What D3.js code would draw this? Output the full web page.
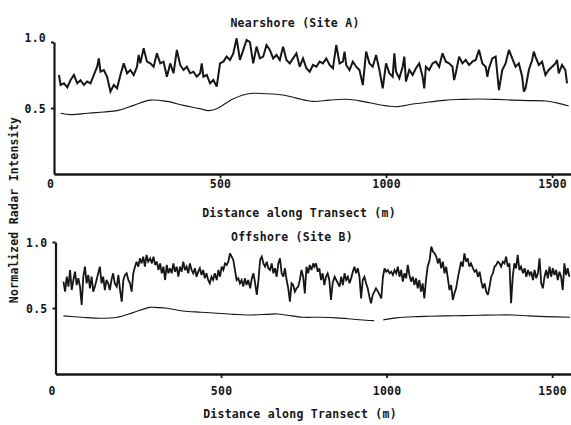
<!DOCTYPE html>
<html><head><meta charset="utf-8">
<script src="https://cdn.jsdelivr.net/npm/d3@7"></script>
<style>
body{margin:0;background:#fff}
text{font-family:"DejaVu Sans Mono",monospace;font-weight:bold;font-size:11.5px;fill:#161616;letter-spacing:0.25px}
</style>
</head><body>
<svg id="chart" width="571" height="425"></svg>
<script>
// ---------- DATA ----------
const distTicks = [0, 500, 1000, 1500];
const intensityTicks = [0.5, 1.0];
const panelTitles = ["Nearshore (Site A)", "Offshore (Site B)"];
const xTitle = "Distance along Transect (m)";
const yTitle = "Normalized Radar Intensity";

// Nearshore (Site A): raw intensity trace [distance m, intensity]
const nearNoisy = [
[15,0.75],[20,0.674],[30,0.687],[40,0.657],[50,0.712],[60,0.75],[70,0.687],[80,0.71],[90,0.674],[100,0.70],
[110,0.687],[120,0.75],[130,0.813],[135,0.876],[140,0.775],[150,0.788],[160,0.737],[170,0.624],[180,0.674],[190,0.649],
[200,0.75],[210,0.838],[220,0.763],[230,0.788],[240,0.75],[250,0.813],[255,0.902],[260,0.838],[270,0.952],[280,0.851],
[290,0.838],[300,0.813],[310,0.914],[320,0.838],[330,0.851],[340,0.737],[350,0.838],[360,0.763],[370,0.94],[380,0.826],
[390,0.788],[400,0.813],[410,0.763],[420,0.775],[430,0.737],[440,0.763],[445,0.838],[450,0.737],[460,0.75],[470,0.687],
[480,0.712],[490,0.662],[500,0.838],[510,0.851],[520,0.889],[530,0.864],[540,0.914],[550,1.028],[560,0.864],[570,0.94],
[580,1.015],[590,1.0],[600,0.838],[610,0.965],[620,0.876],[630,0.889],[640,0.977],[650,0.94],[660,0.876],[670,0.902],
[680,0.864],[690,0.965],[700,0.864],[710,0.838],[720,0.876],[730,0.914],[740,0.813],[750,0.876],[760,0.801],[770,0.775],
[780,0.826],[790,0.813],[800,0.851],[810,0.838],[820,0.876],[830,0.826],[840,0.801],[850,0.977],[860,0.838],[870,0.851],
[875,0.927],[880,0.826],[890,0.788],[900,0.851],[910,0.813],[920,0.788],[930,0.674],[940,0.927],[950,0.838],[960,0.813],
[970,0.902],[980,0.788],[990,0.649],[1000,0.838],[1010,0.763],[1020,0.737],[1025,0.914],[1030,0.775],[1040,0.725],[1050,0.813],
[1055,0.889],[1060,0.70],[1070,0.788],[1080,0.75],[1090,0.801],[1100,0.838],[1110,0.737],[1115,0.649],[1120,0.813],[1130,0.788],
[1140,0.838],[1150,0.851],[1160,0.813],[1170,0.914],[1180,0.851],[1190,0.838],[1200,0.813],[1205,0.712],[1210,0.763],[1220,0.889],
[1230,0.838],[1240,0.864],[1250,0.826],[1260,0.851],[1270,0.864],[1280,0.94],[1290,0.838],[1300,0.813],[1305,0.737],[1310,0.801],
[1320,0.876],[1330,0.889],[1340,0.636],[1350,0.788],[1360,0.838],[1370,0.94],[1380,0.876],[1390,0.813],[1400,0.838],[1410,0.737],
[1415,0.624],[1420,0.649],[1430,0.788],[1440,0.864],[1445,0.927],[1450,0.889],[1460,0.826],[1470,0.851],[1480,0.75],[1490,0.788],
[1500,0.813],[1510,0.838],[1515,0.864],[1520,0.763],[1530,0.826],[1540,0.788],[1545,0.687]
];
// Nearshore (Site A): smoothed trend
const nearSmooth = [
[20,0.46],[50,0.45],[100,0.46],[150,0.47],[190,0.48],[240,0.52],[290,0.56],[340,0.55],[390,0.52],[440,0.495],
[465,0.48],[490,0.495],[540,0.57],[590,0.61],[640,0.608],[690,0.598],[730,0.575],[780,0.55],[830,0.56],[880,0.566],
[930,0.55],[980,0.525],[1030,0.51],[1080,0.53],[1130,0.545],[1180,0.56],[1230,0.565],[1280,0.568],[1330,0.565],[1380,0.56],
[1430,0.556],[1480,0.553],[1520,0.535],[1550,0.515]
];

// Offshore (Site B): raw intensity trace [distance m, intensity]
const offNoisy = [
[24,0.70],[29,0.624],[34,0.737],[39,0.662],[44,0.788],[49,0.636],[54,0.712],[59,0.775],[64,0.674],[69,0.725],
[74,0.662],[79,0.523],[84,0.737],[89,0.813],[94,0.687],[99,0.75],[104,0.649],[109,0.737],[114,0.624],[119,0.662],
[124,0.712],[129,0.763],[134,0.813],[139,0.687],[144,0.737],[149,0.636],[154,0.712],[159,0.687],[164,0.636],[169,0.712],
[174,0.763],[179,0.687],[185,0.662],[190,0.75],[195,0.636],[200,0.548],[205,0.712],[210,0.75],[215,0.763],[220,0.712],
[225,0.687],[230,0.624],[235,0.763],[240,0.813],[245,0.851],[250,0.813],[255,0.876],[260,0.838],[265,0.889],[270,0.813],
[275,0.902],[280,0.851],[286,0.876],[291,0.838],[296,0.889],[301,0.826],[306,0.851],[311,0.788],[316,0.838],[321,0.763],
[326,0.813],[331,0.712],[336,0.826],[341,0.763],[346,0.801],[351,0.763],[356,0.838],[361,0.775],[366,0.813],[371,0.737],
[376,0.813],[381,0.775],[386,0.851],[391,0.788],[396,0.813],[401,0.763],[406,0.838],[411,0.788],[416,0.763],[421,0.801],
[426,0.737],[431,0.775],[436,0.801],[441,0.75],[446,0.788],[451,0.725],[456,0.763],[461,0.712],[466,0.687],[471,0.737],
[476,0.712],[481,0.763],[487,0.712],[492,0.788],[497,0.737],[502,0.813],[507,0.788],[512,0.838],[517,0.826],[522,0.851],
[527,0.914],[532,0.889],[537,0.864],[542,0.788],[547,0.712],[552,0.725],[557,0.687],[562,0.712],[567,0.662],[572,0.725],
[577,0.674],[582,0.712],[588,0.649],[593,0.725],[598,0.763],[603,0.687],[608,0.599],[613,0.712],[618,0.864],[623,0.889],
[628,0.838],[633,0.813],[638,0.851],[643,0.801],[648,0.788],[653,0.838],[658,0.763],[663,0.801],[668,0.737],[673,0.838],
[678,0.876],[683,0.763],[688,0.737],[693,0.801],[698,0.712],[703,0.649],[708,0.548],[713,0.687],[718,0.674],[723,0.624],
[728,0.649],[733,0.662],[738,0.712],[743,0.788],[748,0.737],[753,0.611],[758,0.813],[763,0.763],[768,0.826],[773,0.788],
[779,0.838],[782,0.813],[787,0.838],[792,0.775],[797,0.801],[802,0.712],[807,0.763],[812,0.674],[817,0.737],[822,0.763],
[827,0.712],[832,0.561],[837,0.687],[843,0.737],[848,0.712],[853,0.687],[858,0.662],[863,0.737],[868,0.674],[873,0.763],
[878,0.712],[883,0.737],[888,0.687],[893,0.725],[898,0.775],[903,0.813],[908,0.763],[913,0.801],[918,0.737],[923,0.573],
[928,0.712],[933,0.737],[938,0.687],[943,0.649],[948,0.586],[953,0.536],[958,0.599],[963,0.624],[968,0.649],[974,0.624],
[979,0.599],[984,0.573],[989,0.737],[994,0.801],[999,0.775],[1004,0.788],[1009,0.763],[1014,0.775],[1019,0.75],[1024,0.788],
[1029,0.763],[1034,0.813],[1039,0.737],[1044,0.788],[1049,0.70],[1054,0.763],[1059,0.725],[1064,0.826],[1069,0.75],[1074,0.70],
[1079,0.737],[1084,0.674],[1089,0.725],[1094,0.649],[1099,0.712],[1104,0.624],[1109,0.687],[1114,0.573],[1119,0.712],[1124,0.813],
[1130,0.864],[1135,0.965],[1140,0.927],[1145,0.914],[1150,0.889],[1155,0.838],[1160,0.876],[1165,0.801],[1170,0.851],[1175,0.763],
[1180,0.813],[1185,0.725],[1190,0.636],[1195,0.674],[1200,0.561],[1205,0.611],[1210,0.649],[1215,0.725],[1220,0.788],[1225,0.851],
[1230,0.813],[1235,0.914],[1240,0.851],[1245,0.876],[1250,0.813],[1255,0.838],[1261,0.801],[1266,0.775],[1271,0.788],[1276,0.737],
[1281,0.775],[1286,0.70],[1291,0.649],[1296,0.687],[1301,0.624],[1306,0.599],[1311,0.662],[1316,0.737],[1321,0.763],[1326,0.813],
[1331,0.826],[1336,0.851],[1341,0.838],[1346,0.813],[1351,0.851],[1356,0.838],[1361,0.889],[1366,0.813],[1371,0.838],[1376,0.536],
[1381,0.737],[1386,0.838],[1391,0.801],[1396,0.902],[1401,0.788],[1406,0.813],[1412,0.763],[1417,0.801],[1422,0.737],[1427,0.788],
[1432,0.75],[1437,0.775],[1442,0.712],[1447,0.788],[1452,0.725],[1457,0.763],[1462,0.876],[1467,0.687],[1472,0.649],[1477,0.737],
[1482,0.788],[1487,0.725],[1492,0.813],[1497,0.737],[1502,0.801],[1507,0.75],[1512,0.788],[1517,0.712],[1522,0.775],[1527,0.737],
[1532,0.636],[1537,0.838],[1542,0.75],[1547,0.801],[1552,0.737]
];
// Offshore (Site B): smoothed trend (null marks the break in the record)
const offSmooth = [
[24,0.44],[80,0.43],[134,0.422],[186,0.43],[234,0.465],[285,0.505],[310,0.503],[337,0.498],[385,0.477],[440,0.468],
[488,0.46],[540,0.452],[588,0.447],[640,0.452],[669,0.455],[700,0.445],[748,0.43],[800,0.43],[850,0.425],[900,0.415],
[950,0.405],[962,0.404],[975,null],[990,0.41],[1030,0.425],[1080,0.434],[1130,0.437],[1180,0.44],[1230,0.442],[1280,0.445],
[1330,0.447],[1382,0.447],[1430,0.44],[1480,0.435],[1554,0.43]
];

// ---------- LAYOUT ----------
const svg = d3.select("#chart");
const ink = "#161616";
const layouts = [
  {xr:[54,572], yr:[174,42], titleX:295, titleY:22.5, tickGap:9.5, xTitleX:299, xTitleY:213, noisyW:2.0},
  {xr:[55.5,572], yr:[374,242], titleX:292, titleY:236.5, tickGap:16.5, xTitleX:300, xTitleY:414, noisyW:1.8}
];
const series = [
  {noisy: nearNoisy, smooth: nearSmooth},
  {noisy: offNoisy, smooth: offSmooth}
];

layouts.forEach((L, i) => {
  const x = d3.scaleLinear().domain([0, 1560]).range(L.xr);
  const y = d3.scaleLinear().domain([0, 1]).range(L.yr);
  const g = svg.append("g");

  const noisyLine = d3.line().x(d => x(d[0])).y(d => y(d[1])).defined(d => d[1] !== null);
  const smoothLine = d3.line().x(d => x(d[0])).y(d => y(d[1])).defined(d => d[1] !== null).curve(d3.curveCatmullRom);
  g.append("path").datum(series[i].smooth).attr("d", smoothLine)
    .attr("fill", "none").attr("stroke", ink).attr("stroke-width", 1.1);
  g.append("path").datum(series[i].noisy).attr("d", noisyLine)
    .attr("fill", "none").attr("stroke", ink).attr("stroke-width", L.noisyW)
    .attr("stroke-linejoin", "miter").attr("stroke-miterlimit", 3);

  // x axis
  const xa = g.append("g").attr("transform", `translate(0,${L.yr[0]})`)
    .call(d3.axisBottom(x).tickValues(distTicks).tickSize(4).tickSizeOuter(0).tickFormat(d3.format("d")));
  xa.attr("font-family", null).attr("font-size", null);
  xa.select(".domain").attr("stroke", ink).attr("stroke-width", 2.3);
  xa.selectAll(".tick line").attr("stroke", ink).attr("stroke-width", 1.8);
  xa.selectAll(".tick").filter(d => d === 0).select("line").remove();
  xa.selectAll(".tick text").attr("y", L.tickGap).attr("dy", "0.35em")
    .attr("dx", d => d === 0 ? -4 : 0);

  // y axis
  const ya = g.append("g").attr("transform", `translate(${L.xr[0]},0)`)
    .call(d3.axisLeft(y).tickValues(intensityTicks).tickSize(3).tickPadding(5).tickSizeOuter(0).tickFormat(d3.format(".1f")));
  ya.attr("font-family", null).attr("font-size", null);
  ya.select(".domain").attr("stroke", ink).attr("stroke-width", 2.2);
  ya.selectAll(".tick line").attr("stroke", ink).attr("stroke-width", 2);
  ya.selectAll(".tick text").attr("dy", d => (i === 0 && d === 1) ? "-0.05em" : "0.35em");

  // titles
  g.append("text").attr("x", L.titleX).attr("y", L.titleY).attr("dy", "0.35em")
    .attr("text-anchor", "middle").text(panelTitles[i]);
  g.append("text").attr("x", L.xTitleX).attr("y", L.xTitleY).attr("dy", "0.35em")
    .attr("text-anchor", "middle").text(xTitle);
});

svg.append("text").attr("transform", "translate(14,210) rotate(-90)")
  .attr("dy", "0.35em").attr("text-anchor", "middle").text(yTitle);
</script>
</body></html>
